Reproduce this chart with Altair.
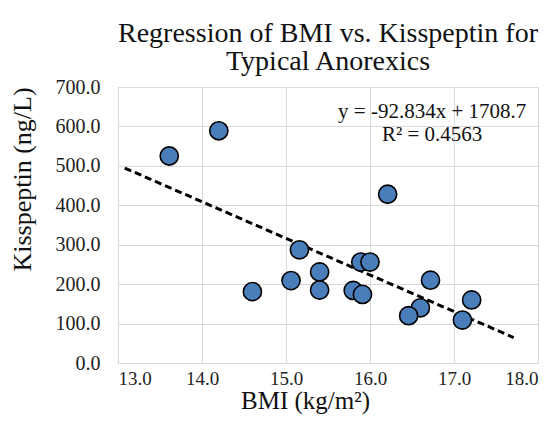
import altair as alt
import pandas as pd

bmi = [13.61, 14.20, 16.21, 15.16, 15.89, 16.00, 15.40, 15.06, 14.60, 15.40, 15.80, 15.91, 16.72, 16.60, 16.46, 17.21, 17.10]
kiss = [525, 589, 428, 287, 256, 256, 231, 209, 181, 185, 184, 174, 210, 140, 120, 160, 109]

slope = -92.834
intercept = 1708.7
trend_x = [13.08, 17.71]

x_ticks = [13, 14, 15, 16, 17, 18]
y_ticks = [0, 100, 200, 300, 400, 500, 600, 700]

eq_text = ["y = -92.834x + 1708.7", "R² = 0.4563"]
eq_x = [16.74, 16.74]
eq_y = [637, 579]

FONT = "Liberation Serif"

pts = pd.DataFrame({"bmi": bmi, "kiss": kiss})
trend = pd.DataFrame({"bmi": trend_x, "kiss": [slope * v + intercept for v in trend_x]})
ann = pd.DataFrame({"t": eq_text, "bmi": eq_x, "kiss": eq_y})

xs = alt.Scale(domain=[13, 18], nice=False, zero=False)
ys = alt.Scale(domain=[0, 700], nice=False)

xax = alt.Axis(values=x_ticks, format=".1f", grid=True, gridColor="#d9d9d9", domain=False, ticks=False,
               labelFont=FONT, labelFontSize=19, labelColor="#222222", labelPadding=6, labelOverlap=False,
               title="BMI (kg/m²)", titleFont=FONT, titleFontSize=25, titleFontWeight="normal",
               titleColor="#111111", titleX=187, titleY=45, titleBaseline="alphabetic")
yax = alt.Axis(values=y_ticks, format=".1f", grid=True, gridColor="#d9d9d9", domain=False, ticks=False,
               labelFont=FONT, labelFontSize=20, labelColor="#222222", labelPadding=18, labelOverlap=False,
               title="Kisspeptin (ng/L)", titleFont=FONT, titleFontSize=26, titleFontWeight="normal",
               titleColor="#111111", titleX=-96, titleY=92, titleBaseline="middle", titleAngle=-90)

X = alt.X("bmi:Q", scale=xs, axis=xax)
Y = alt.Y("kiss:Q", scale=ys, axis=yax)

line = alt.Chart(trend).mark_line(color="black", strokeWidth=3, strokeDash=[7, 4]).encode(x=X, y=Y)

points = alt.Chart(pts).mark_point(filled=True, shape="circle", size=330, fill="#4A7EBB",
                                   stroke="black", strokeWidth=1.6, opacity=1).encode(x=X, y=Y)

text = alt.Chart(ann).mark_text(font=FONT, fontSize=21, color="#111111", align="center",
                                baseline="middle").encode(x=X, y=Y, text="t:N")

chart = alt.layer(line, points, text).properties(
    width=420, height=276,
    title=alt.TitleParams(["Regression of BMI vs. Kisspeptin for", "Typical Anorexics"],
                          font=FONT, fontSize=28, fontWeight="normal", color="#111111",
                          anchor="middle", offset=1, lineHeight=28),
    autosize=alt.AutoSizeParams(type="none"),
    padding={"left": 110, "top": 79, "right": 12, "bottom": 55},
    background="white",
).configure_view(stroke="#d9d9d9")

chart.save("out.html", embed_options={"renderer": "svg", "actions": False})
